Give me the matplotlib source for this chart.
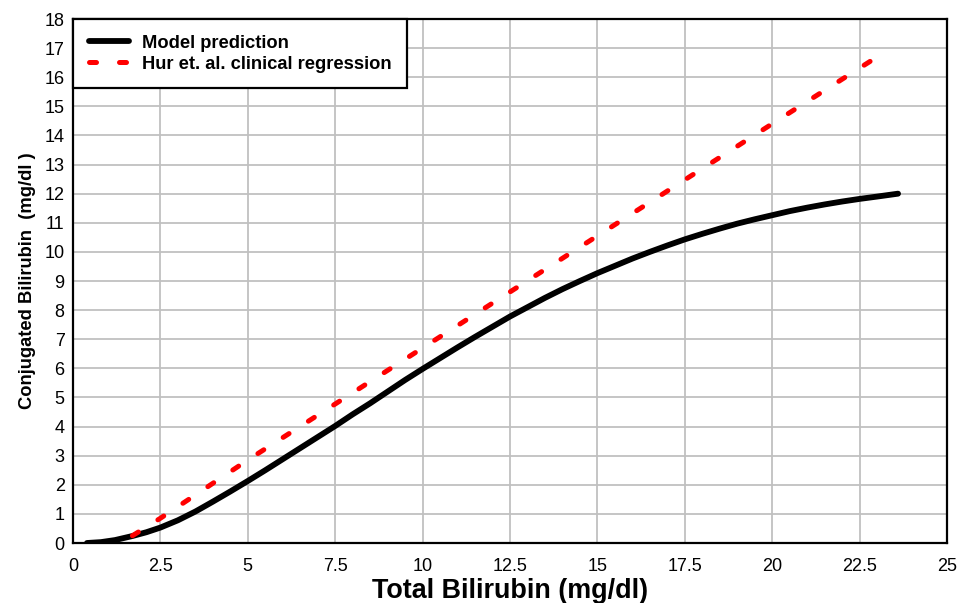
import numpy as np
import matplotlib.pyplot as plt

plt.rcParams['font.family'] = ['Liberation Sans', 'DejaVu Sans']

# Model prediction
model_x = [0.4, 0.8, 1.2, 1.7, 2.1, 2.5, 3.0, 3.5, 4.0, 4.5, 5.0, 5.5, 6.0, 6.5, 7.0, 7.5,
           8.0, 8.5, 9.0, 9.5, 10.0, 10.5, 11.0, 11.5, 12.0, 12.5, 13.0, 13.5, 14.0, 14.5,
           15.0, 15.5, 16.0, 16.5, 17.0, 17.5, 18.0, 18.5, 19.0, 19.5, 20.0, 20.5, 21.0,
           21.5, 22.0, 22.5, 23.0, 23.6]
model_y = [0.0, 0.03, 0.1, 0.24, 0.37, 0.53, 0.78, 1.08, 1.42, 1.77, 2.13, 2.5, 2.88, 3.26,
           3.64, 4.02, 4.42, 4.8, 5.2, 5.6, 5.98, 6.35, 6.72, 7.08, 7.43, 7.78, 8.1, 8.42,
           8.72, 9.0, 9.27, 9.52, 9.77, 10.0, 10.22, 10.43, 10.62, 10.8, 10.97, 11.12, 11.26,
           11.4, 11.52, 11.63, 11.73, 11.82, 11.9, 12.0]

# Hur et al. clinical regression
hur_x = [1.7, 2.5, 5.0, 10.0, 15.0, 20.0, 23.2]
hur_y = [0.25, 0.85, 2.85, 6.7, 10.55, 14.4, 16.85]

x_ticks = [0, 2.5, 5, 7.5, 10, 12.5, 15, 17.5, 20, 22.5, 25]
x_labels = ['0', '2.5', '5', '7.5', '10', '12.5', '15', '17.5', '20', '22.5', '25']
y_ticks = list(range(0, 19))

fig = plt.figure(figsize=(9.6, 6.03), dpi=100)
ax = fig.add_axes([73 / 960, 1 - 543 / 603, (947 - 73) / 960, (543 - 19) / 603])

ax.plot(model_x, model_y, color='black', lw=4.2, solid_capstyle='round',
        solid_joinstyle='round', label='Model prediction', zorder=3)
ax.plot(hur_x, hur_y, color='#ff0000', lw=3.6, dash_capstyle='round',
        dashes=(1.4, 4.6), label='Hur et. al. clinical regression', zorder=3)

ax.set_xlim(0, 25)
ax.set_ylim(0, 18)
ax.set_xticks(x_ticks)
ax.set_xticklabels(x_labels)
ax.set_yticks(y_ticks)
ax.tick_params(length=0, labelsize=13)
ax.tick_params(axis='x', pad=11)
ax.tick_params(axis='y', pad=6)
ax.grid(True, color='#c0c0c0', lw=1.3)
ax.set_axisbelow(True)
for s in ax.spines.values():
    s.set_linewidth(1.6)

ax.set_xlabel('Total Bilirubin (mg/dl)', fontsize=19.4, fontweight='bold', labelpad=2)
ax.set_ylabel('Conjugated Bilirubin  (mg/dl )', fontsize=13.2, fontweight='bold', labelpad=6)

leg = ax.legend(loc='upper left', borderaxespad=0, fancybox=False, framealpha=1,
                edgecolor='black', prop={'weight': 'bold', 'size': 13.2},
                handlelength=2.2, handletextpad=0.7, borderpad=0.85, labelspacing=0.22)
leg.get_frame().set_linewidth(1.6)

fig.savefig('out.png', dpi=100)
